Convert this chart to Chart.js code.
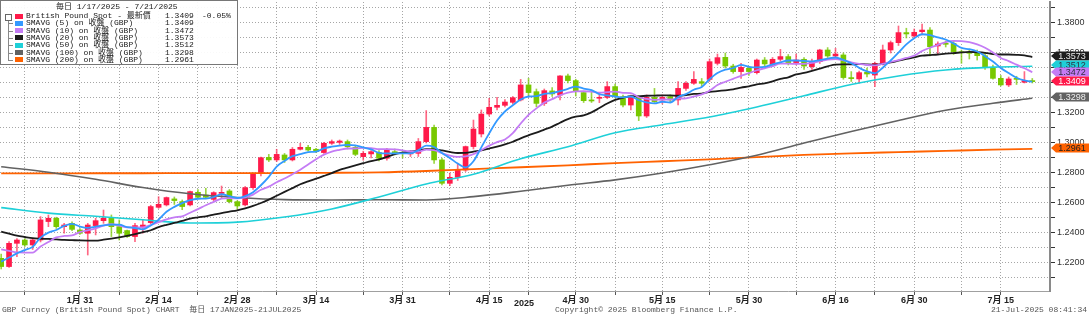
<!DOCTYPE html>
<html>
<head>
<meta charset="utf-8">
<script src="https://cdn.jsdelivr.net/npm/chart.js@4.4.1/dist/chart.umd.min.js"></script>
<style>
  html, body { margin: 0; padding: 0; background: #fff; }
  #wrap { position: relative; width: 1090px; height: 315px; overflow: hidden; }
  #chart { position: absolute; left: 0; top: 0; }
  .mono { font-family: "Liberation Mono", "Noto Sans CJK TC", monospace; }
  #legend { position: absolute; left: 0; top: 0; width: 236px; height: 63px; border: 1px solid #777;
            background: rgba(255,255,255,0.93); font-size: 8px; color: #1a1a1a; }
  #legend .t { position: absolute; white-space: pre; line-height: 8px; }
  #legend .sw { position: absolute; width: 8px; height: 5px; }
  .foot { position: absolute; top: 305px; font-size: 8px; color: #555; white-space: pre; line-height: 9px; }
  #year { position: absolute; left: 514px; top: 298px; font: bold 9px "Liberation Sans", sans-serif; color: #222; }
</style>
</head>
<body>
<div id="wrap">
  <canvas id="chart" width="1090" height="315"></canvas>
  <div id="legend" class="mono"></div>
  <div id="year">2025</div>
  <div class="foot mono" style="left:2px">GBP Curncy (British Pound Spot) CHART  毎日 17JAN2025-21JUL2025</div>
  <div class="foot mono" style="left:555px">Copyright© 2025 Bloomberg Finance L.P.</div>
  <div class="foot mono" style="right:3px">21-Jul-2025 08:41:34</div>
</div>
<script>
// daily GBP candles, 17 Jan 2025 .. 21 Jul 2025 (index = trading day)
const opens = [
  1.2231,1.2176,1.2331,1.2353,1.2320,1.2353,1.2476,1.2498,1.2442,1.2464,
  1.2420,1.2398,1.2449,1.2482,1.2498,1.2442,1.2416,1.2376,1.2440,1.2469,
  1.2571,1.2587,1.2627,1.2609,1.2587,1.2671,1.2653,1.2624,1.2664,1.2680,
  1.2609,1.2587,1.2702,1.2798,1.2904,1.2887,1.2920,1.2887,1.2958,1.2971,
  1.2958,1.2936,1.2998,1.3004,1.3009,1.2971,1.2909,1.2927,1.2936,1.2898,
  1.2942,1.2938,1.2927,1.2931,1.3009,1.3104,1.2887,1.2731,1.2771,1.2820,
  1.2976,1.3060,1.3193,1.3238,1.3251,1.3271,1.3287,1.3387,1.3342,1.3264,
  1.3347,1.3320,1.3447,1.3416,1.3336,1.3287,1.3298,1.3304,1.3376,1.3309,
  1.3253,1.3304,1.3180,1.3304,1.3287,1.3309,1.3287,1.3364,1.3398,1.3409,
  1.3424,1.3531,1.3571,1.3513,1.3476,1.3498,1.3469,1.3553,1.3520,1.3558,
  1.3576,1.3536,1.3558,1.3509,1.3542,1.3620,1.3580,1.3587,1.3436,1.3427,
  1.3471,1.3453,1.3531,1.3620,1.3669,1.3736,1.3713,1.3742,1.3753,1.3647,
  1.3664,1.3664,1.3609,1.3604,1.3598,1.3582,1.3504,1.3431,1.3387,1.3431,
  1.3405,1.3416
];
const highs = [
  1.2259,1.2342,1.2362,1.2362,1.2360,1.2509,1.2520,1.2505,1.2464,1.2475,
  1.2430,1.2464,1.2498,1.2553,1.2520,1.2487,1.2420,1.2464,1.2487,1.2585,
  1.2642,1.2640,1.2640,1.2620,1.2680,1.2690,1.2698,1.2675,1.2713,1.2690,
  1.2615,1.2710,1.2800,1.2906,1.2924,1.2958,1.2930,1.2970,1.2998,1.2985,
  1.2965,1.3005,1.3020,1.3020,1.3020,1.2980,1.2945,1.2950,1.2950,1.2964,
  1.2960,1.2950,1.2950,1.3030,1.3216,1.3120,1.2900,1.2800,1.2864,1.2980,
  1.3153,1.3220,1.3298,1.3304,1.3290,1.3310,1.3424,1.3431,1.3360,1.3360,
  1.3370,1.3450,1.3460,1.3425,1.3345,1.3353,1.3331,1.3409,1.3393,1.3320,
  1.3320,1.3315,1.3320,1.3364,1.3320,1.3320,1.3409,1.3410,1.3476,1.3430,
  1.3560,1.3593,1.3600,1.3525,1.3531,1.3510,1.3560,1.3570,1.3570,1.3624,
  1.3590,1.3593,1.3570,1.3560,1.3625,1.3636,1.3631,1.3600,1.3476,1.3480,
  1.3500,1.3540,1.3653,1.3680,1.3780,1.3765,1.3760,1.3793,1.3770,1.3675,
  1.3680,1.3680,1.3620,1.3620,1.3620,1.3600,1.3520,1.3450,1.3440,1.3445,
  1.3476,1.3430
];
const lows = [
  1.2160,1.2171,1.2242,1.2310,1.2290,1.2340,1.2442,1.2430,1.2398,1.2415,
  1.2390,1.2253,1.2387,1.2464,1.2376,1.2353,1.2370,1.2342,1.2398,1.2460,
  1.2564,1.2580,1.2590,1.2555,1.2580,1.2630,1.2631,1.2615,1.2631,1.2600,
  1.2560,1.2580,1.2690,1.2780,1.2876,1.2876,1.2870,1.2880,1.2953,1.2945,
  1.2935,1.2930,1.2990,1.2990,1.2960,1.2915,1.2885,1.2900,1.2880,1.2885,
  1.2920,1.2900,1.2910,1.2910,1.3000,1.2864,1.2720,1.2715,1.2750,1.2810,
  1.2960,1.3040,1.3180,1.3220,1.3240,1.3260,1.3280,1.3309,1.3242,1.3250,
  1.3310,1.3287,1.3400,1.3313,1.3270,1.3270,1.3269,1.3295,1.3300,1.3240,
  1.3220,1.3149,1.3170,1.3270,1.3260,1.3270,1.3253,1.3350,1.3390,1.3380,
  1.3410,1.3520,1.3500,1.3465,1.3431,1.3450,1.3460,1.3510,1.3510,1.3545,
  1.3520,1.3520,1.3490,1.3490,1.3530,1.3570,1.3575,1.3425,1.3410,1.3398,
  1.3440,1.3376,1.3520,1.3600,1.3650,1.3700,1.3700,1.3720,1.3580,1.3596,
  1.3640,1.3590,1.3531,1.3560,1.3553,1.3490,1.3425,1.3380,1.3376,1.3390,
  1.3400,1.3400
];
const closes = [
  1.2176,1.2331,1.2353,1.2320,1.2353,1.2487,1.2498,1.2442,1.2453,1.2424,
  1.2398,1.2453,1.2482,1.2498,1.2442,1.2398,1.2376,1.2449,1.2453,1.2576,
  1.2591,1.2636,1.2616,1.2576,1.2676,1.2638,1.2638,1.2669,1.2671,1.2609,
  1.2580,1.2702,1.2798,1.2902,1.2887,1.2924,1.2887,1.2958,1.2971,1.2953,
  1.2942,1.2998,1.3009,1.3013,1.2975,1.2924,1.2931,1.2942,1.2898,1.2953,
  1.2931,1.2930,1.2936,1.3009,1.3104,1.2887,1.2731,1.2771,1.2820,1.2976,
  1.3093,1.3193,1.3238,1.3251,1.3273,1.3302,1.3387,1.3336,1.3264,1.3349,
  1.3327,1.3447,1.3416,1.3342,1.3282,1.3280,1.3304,1.3376,1.3309,1.3253,
  1.3309,1.3180,1.3304,1.3276,1.3304,1.3287,1.3364,1.3398,1.3424,1.3398,
  1.3542,1.3569,1.3513,1.3476,1.3504,1.3476,1.3553,1.3527,1.3558,1.3576,
  1.3536,1.3553,1.3513,1.3542,1.3620,1.3580,1.3593,1.3436,1.3429,1.3469,
  1.3460,1.3531,1.3620,1.3669,1.3736,1.3727,1.3738,1.3753,1.3642,1.3660,
  1.3658,1.3609,1.3602,1.3598,1.3582,1.3504,1.3431,1.3387,1.3427,1.3424,
  1.3416,1.3409
];

// moving averages, one value per trading day
const sma5 = [
  1.2209,1.2236,1.2264,1.2286,1.2307,1.2369,1.2402,1.2420,1.2447,1.2461,
  1.2443,1.2434,1.2442,1.2451,1.2455,1.2455,1.2439,1.2433,1.2424,1.2450,
  1.2489,1.2541,1.2574,1.2599,1.2619,1.2628,1.2629,1.2639,1.2658,1.2645,
  1.2633,1.2646,1.2672,1.2718,1.2774,1.2843,1.2880,1.2912,1.2925,1.2939,
  1.2942,1.2964,1.2975,1.2983,1.2987,1.2984,1.2970,1.2957,1.2934,1.2930,
  1.2931,1.2931,1.2930,1.2952,1.2982,1.2973,1.2933,1.2900,1.2863,1.2837,
  1.2878,1.2971,1.3064,1.3150,1.3210,1.3251,1.3290,1.3310,1.3312,1.3328,
  1.3333,1.3345,1.3361,1.3376,1.3363,1.3353,1.3325,1.3317,1.3310,1.3304,
  1.3310,1.3285,1.3271,1.3264,1.3275,1.3270,1.3307,1.3326,1.3355,1.3374,
  1.3425,1.3466,1.3489,1.3500,1.3521,1.3508,1.3504,1.3507,1.3524,1.3538,
  1.3550,1.3550,1.3547,1.3544,1.3553,1.3562,1.3570,1.3554,1.3532,1.3501,
  1.3477,1.3465,1.3502,1.3550,1.3603,1.3657,1.3698,1.3725,1.3719,1.3704,
  1.3690,1.3664,1.3634,1.3625,1.3610,1.3579,1.3543,1.3500,1.3466,1.3435,
  1.3417,1.3409
];
const sma10 = [
  1.2291,1.2280,1.2270,1.2269,1.2269,1.2309,1.2340,1.2370,1.2380,1.2384,
  1.2406,1.2418,1.2431,1.2449,1.2458,1.2449,1.2437,1.2437,1.2437,1.2453,
  1.2472,1.2490,1.2504,1.2511,1.2535,1.2559,1.2585,1.2607,1.2629,1.2632,
  1.2631,1.2638,1.2656,1.2688,1.2709,1.2738,1.2763,1.2792,1.2822,1.2856,
  1.2892,1.2922,1.2943,1.2954,1.2963,1.2963,1.2967,1.2966,1.2959,1.2959,
  1.2957,1.2951,1.2943,1.2943,1.2956,1.2952,1.2932,1.2915,1.2907,1.2910,
  1.2926,1.2952,1.2982,1.3006,1.3023,1.3065,1.3130,1.3187,1.3231,1.3269,
  1.3292,1.3317,1.3335,1.3344,1.3345,1.3343,1.3335,1.3339,1.3343,1.3334,
  1.3332,1.3305,1.3294,1.3287,1.3290,1.3290,1.3296,1.3298,1.3310,1.3324,
  1.3348,1.3387,1.3408,1.3428,1.3448,1.3466,1.3485,1.3498,1.3512,1.3529,
  1.3529,1.3527,1.3527,1.3534,1.3545,1.3556,1.3560,1.3551,1.3538,1.3527,
  1.3520,1.3517,1.3528,1.3541,1.3552,1.3567,1.3582,1.3613,1.3635,1.3654,
  1.3673,1.3681,1.3679,1.3672,1.3657,1.3635,1.3604,1.3567,1.3546,1.3522,
  1.3498,1.3472
];
const sma20 = [
  1.2409,1.2395,1.2382,1.2373,1.2365,1.2362,1.2360,1.2357,1.2354,1.2352,
  1.2350,1.2349,1.2349,1.2355,1.2362,1.2370,1.2380,1.2392,1.2405,1.2418,
  1.2439,1.2454,1.2467,1.2480,1.2496,1.2504,1.2511,1.2522,1.2533,1.2542,
  1.2551,1.2564,1.2580,1.2600,1.2622,1.2648,1.2674,1.2699,1.2725,1.2744,
  1.2762,1.2780,1.2799,1.2821,1.2836,1.2851,1.2865,1.2879,1.2890,1.2907,
  1.2925,1.2936,1.2943,1.2949,1.2959,1.2958,1.2950,1.2940,1.2933,1.2934,
  1.2942,1.2951,1.2963,1.2975,1.2990,1.3008,1.3031,1.3051,1.3069,1.3089,
  1.3109,1.3135,1.3159,1.3175,1.3184,1.3204,1.3233,1.3263,1.3287,1.3301,
  1.3312,1.3311,1.3315,1.3316,1.3317,1.3317,1.3315,1.3319,1.3327,1.3329,
  1.3340,1.3346,1.3351,1.3357,1.3369,1.3378,1.3391,1.3398,1.3411,1.3427,
  1.3438,1.3457,1.3467,1.3481,1.3496,1.3511,1.3523,1.3524,1.3525,1.3528,
  1.3524,1.3522,1.3528,1.3537,1.3549,1.3561,1.3571,1.3582,1.3586,1.3590,
  1.3596,1.3599,1.3604,1.3607,1.3605,1.3601,1.3593,1.3590,1.3590,1.3588,
  1.3584,1.3573
];
// slow averages, read every sixth trading day
const longIdx = [0, 6, 12, 18, 24, 30, 36, 42, 48, 54, 60, 66, 72, 78, 84, 90, 96, 102, 108, 114, 120, 126, 131];
const sma50 = [1.2569,1.2532,1.2511,1.2488,1.2466,1.2472,1.2506,1.2560,1.2640,1.2727,1.2792,1.2895,
               1.2975,1.3068,1.3122,1.3173,1.3240,1.3315,1.3390,1.3447,1.3487,1.3506,1.3512];
const sma100 = [1.2842,1.2805,1.2758,1.2703,1.2661,1.2636,1.2622,1.2620,1.2621,1.2620,1.2642,1.2678,
                1.2718,1.2754,1.2800,1.2855,1.2918,1.3000,1.3077,1.3150,1.3218,1.3265,1.3298];
const sma200 = [1.2797,1.2797,1.2798,1.2798,1.2799,1.2799,1.2800,1.2801,1.2804,1.2813,1.2826,1.2838,
                1.2851,1.2866,1.2878,1.2890,1.2906,1.2920,1.2931,1.2939,1.2947,1.2955,1.2961];

// x axis: labelled dates and the weekly grid lines between them
const xLabelIdx = [10, 20, 30, 40, 51, 62, 73, 84, 95, 106, 116, 127];
const xLabels = ['1月 31', '2月 14', '2月 28', '3月 14', '3月 31', '4月 15', '4月 30', '5月 15', '5月 30', '6月 16', '6月 30', '7月 15'];
const xMidIdx = [3, 15, 25, 35, 46, 57, 67, 78, 90, 101, 111, 122];

const legendNames = ['British Pound Spot - 最新價', 'SMAVG (5) on 收盤 (GBP)', 'SMAVG (10) on 收盤 (GBP)', 'SMAVG (20) on 收盤 (GBP)',
                     'SMAVG (50) on 收盤 (GBP)', 'SMAVG (100) on 收盤 (GBP)', 'SMAVG (200) on 收盤 (GBP)'];

const RED = '#ff1a4a', GREEN = '#78c800';
const COLORS = ['#ff1a4a', '#3399ff', '#c47cf5', '#1c1c1c', '#1ed0d8', '#626262', '#ff6200'];

const last = (a) => a[a.length - 1];
const isUp = (i) => closes[i] >= opens[i];

// legend box
const legend = document.getElementById('legend');
const series = [closes, sma5, sma10, sma20, sma50, sma100, sma200];
let html = '<div class="t" style="left:55px;top:2px">毎日 1/17/2025 - 7/21/2025</div>';
html += '<div style="position:absolute;left:4px;top:13px;width:5px;height:5px;border:1px solid #666"></div>';
html += '<div style="position:absolute;left:7px;top:20px;width:0;height:39px;border-left:1px solid #888"></div>';
legendNames.forEach((name, k) => {
    const top = 11 + k * 7.3;
    if (k > 0) html += `<div style="position:absolute;left:7px;top:${top + 4}px;width:5px;border-top:1px solid #888"></div>`;
    html += `<div class="sw" style="left:14px;top:${top + 1.5}px;background:${COLORS[k]}"></div>`;
    html += `<div class="t" style="left:25px;top:${top}px">${name}</div>`;
    html += `<div class="t" style="left:164px;top:${top}px">${last(series[k]).toFixed(4)}</div>`;
});
const pct = (last(closes) / closes[closes.length - 2] - 1) * 100;
html += `<div class="t" style="left:201px;top:11px">${pct.toFixed(2)}%</div>`;
legend.innerHTML = html;

// price tags on the right axis
const tagPlugin = {
    id: 'tags',
    afterDraw(chart) {
        const ctx = chart.ctx;
        const y = chart.scales.y;
        const x0 = chart.chartArea.right + 1;
        const tags = [
            { v: last(sma20), bg: COLORS[3], fg: '#e8e8e8' },
            { v: last(sma50), bg: COLORS[4], fg: '#303040' },
            { v: last(sma10), bg: COLORS[2], fg: '#303040' },
            { v: last(closes), bg: COLORS[0], fg: '#ffffff' },
            { v: last(sma100), bg: COLORS[5], fg: '#f0f0f0' },
            { v: last(sma200), bg: COLORS[6], fg: '#202020' },
        ].map(t => ({ ...t, py: y.getPixelForValue(t.v) - 1 }))
         .sort((a, b) => a.py - b.py);
        for (let k = 1; k < tags.length; k++) {
            if (tags[k].py < tags[k - 1].py + 7) tags[k].py = tags[k - 1].py + 7;
        }
        ctx.save();
        ctx.font = '9px "Liberation Sans", Arial, sans-serif';
        ctx.textAlign = 'center';
        ctx.textBaseline = 'middle';
        tags.forEach(t => {
            const p = Math.round(t.py);
            ctx.fillStyle = t.bg;
            ctx.beginPath();
            ctx.moveTo(x0, p);
            ctx.lineTo(x0 + 5, p - 4.5);
            ctx.lineTo(1089, p - 4.5);
            ctx.lineTo(1089, p + 4.5);
            ctx.lineTo(x0 + 5, p + 4.5);
            ctx.closePath();
            ctx.fill();
            ctx.fillStyle = t.fg;
            ctx.fillText(t.v.toFixed(4), 1072, p + 0.5);
        });
        ctx.restore();
    }
};

const lineDs = (data, color, order, width) => ({
    type: 'line',
    data,
    borderColor: color,
    borderWidth: width,
    pointRadius: 0,
    cubicInterpolationMode: 'monotone',
    order,
});

const gridIdx = [...xLabelIdx, ...xMidIdx].sort((a, b) => a - b);

new Chart(document.getElementById('chart'), {
    type: 'bar',
    data: {
        datasets: [
            lineDs(sma5.map((v, i) => ({ x: i, y: v })), COLORS[1], 0, 1.8),
            lineDs(sma10.map((v, i) => ({ x: i, y: v })), COLORS[2], 1, 1.8),
            lineDs(sma20.map((v, i) => ({ x: i, y: v })), COLORS[3], 2, 1.8),
            lineDs(longIdx.map((x, k) => ({ x, y: sma50[k] })), COLORS[4], 3, 1.6),
            lineDs(longIdx.map((x, k) => ({ x, y: sma100[k] })), COLORS[5], 4, 1.6),
            lineDs(longIdx.map((x, k) => ({ x, y: sma200[k] })), COLORS[6], 5, 1.8),
            {
                type: 'bar',
                data: opens.map((o, i) => ({ x: i, y: [o, closes[i]] })),
                backgroundColor: (c) => (c.dataIndex !== undefined && !isUp(c.dataIndex)) ? GREEN : RED,
                barThickness: 5,
                minBarLength: 1,
                grouped: false,
                order: 10,
            },
            {
                type: 'bar',
                data: lows.map((l, i) => ({ x: i, y: [l, highs[i]] })),
                backgroundColor: (c) => (c.dataIndex !== undefined && !isUp(c.dataIndex)) ? 'rgba(120,200,0,0.75)' : 'rgba(255,40,80,0.7)',
                barThickness: 1,
                grouped: false,
                order: 11,
            },
        ],
    },
    options: {
        responsive: false,
        animation: false,
        devicePixelRatio: 1,
        layout: { padding: { top: 2, left: 0, right: 0, bottom: 0 } },
        plugins: { legend: { display: false }, tooltip: { enabled: false } },
        scales: {
            x: {
                type: 'linear',
                min: -0.15,
                max: 133.25,
                offset: false,
                grid: { offset: false, color: '#a6a6a6', tickLength: 4, tickColor: '#555', tickBorderDash: [] },
                border: { display: true, color: '#a0a0a0', width: 1, dash: [1, 2] },
                afterBuildTicks: (s) => { s.ticks = gridIdx.map(v => ({ value: v })); },
                afterFit: (s) => { s.height = 24; s.paddingLeft = 0; s.paddingRight = 0; },
                ticks: {
                    autoSkip: false,
                    maxRotation: 0,
                    padding: 0,
                    color: '#222',
                    font: { family: '"Liberation Sans", "Noto Sans CJK JP", sans-serif', size: 9, weight: 'bold' },
                    callback: (v) => {
                        const k = xLabelIdx.indexOf(v);
                        return k >= 0 ? xLabels[k] : '';
                    },
                },
            },
            y: {
                position: 'right',
                min: 1.2013,
                max: 1.3940,
                grid: { color: '#a6a6a6', tickLength: 5, tickColor: '#333', tickBorderDash: [] },
                border: { display: true, color: '#8a8a8a', width: 2, dash: [1, 2] },
                afterBuildTicks: (s) => {
                    const t = [];
                    for (let k = 121; k <= 139; k++) t.push({ value: k / 100 });
                    s.ticks = t;
                },
                afterFit: (s) => { s.width = 40; s.paddingTop = 0; s.paddingBottom = 0; },
                ticks: {
                    padding: 2,
                    color: '#333',
                    font: { family: '"Liberation Sans", Arial, sans-serif', size: 9 },
                    callback: (v) => (Math.round(v * 100) % 2 === 0 ? v.toFixed(4) : ''),
                },
            },
        },
    },
    plugins: [tagPlugin],
});
</script>
</body>
</html>
